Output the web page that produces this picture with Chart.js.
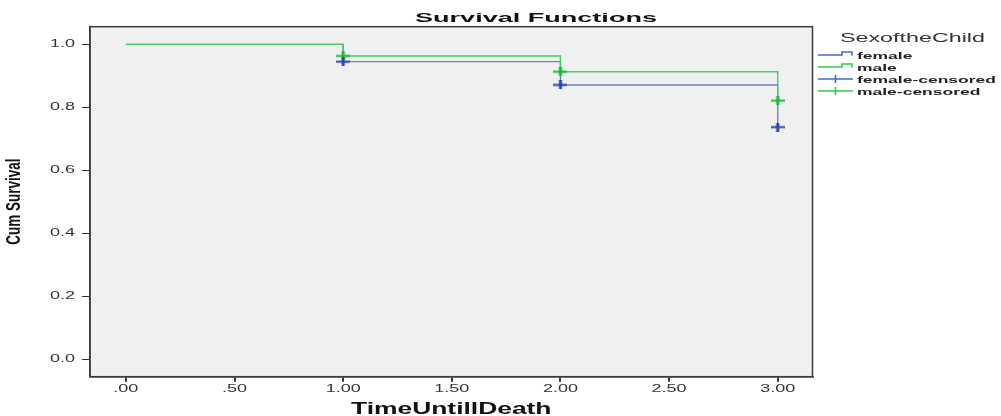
<!DOCTYPE html>
<html><head><meta charset="utf-8">
<script src="https://cdn.jsdelivr.net/npm/chart.js@4"></script>
<style>html,body{margin:0;padding:0;background:#fff;}#wrap{width:1001px;height:416px;}</style>
</head><body><div id="wrap"><canvas id="c" width="1001" height="416"></canvas></div>
<script>
const chartTitle = 'Survival Functions';
const xAxisTitle = 'TimeUntillDeath';
const yAxisTitle = 'Cum Survival';
const legendTitle = 'SexoftheChild';
const seriesNames = ['female', 'male', 'female-censored', 'male-censored'];
const times = [0, 1, 2, 3];
const femaleSurvival = [1.0, 0.945, 0.871, 0.737];
const maleSurvival = [1.0, 0.963, 0.913, 0.821];
const censorTimes = [1, 2, 3];
const femaleCensored = [0.945, 0.871, 0.737];
const maleCensored = [0.963, 0.913, 0.821];
const xTicks = [0, 0.5, 1, 1.5, 2, 2.5, 3];
const yTicks = [0, 0.2, 0.4, 0.6, 0.8, 1.0];

const COL = {
  femaleLine: '#6d80c6', maleLine: '#4ec766',
  femaleMark: '#2b45a6', maleMark: '#21b53f',
  femaleLeg: '#4a66cc', maleLeg: '#2ecc4e'
};

function crossCanvas(color) {
  const c = document.createElement('canvas');
  c.width = 14; c.height = 9;
  const g = c.getContext('2d');
  g.fillStyle = color;
  g.fillRect(0, 3.5, 14, 2);
  g.fillRect(5.5, 0, 3, 9);
  return c;
}

const origFill = CanvasRenderingContext2D.prototype.fillText;
function patchCtx(ctx) {
  ctx._sx = 1;
  ctx.fillText = function (t, x, y, mw) {
    const s = this._sx || 1;
    if (s === 1) return origFill.call(this, t, x, y);
    this.save();
    this.translate(x, y);
    this.scale(s, 1);
    origFill.call(this, t, 0, 0);
    this.restore();
  };
}

function drawText(ctx, text, x, y, font, sx, align, color) {
  ctx.save();
  ctx._sx = 1;
  ctx.font = font;
  ctx.fillStyle = color;
  ctx.textAlign = align;
  ctx.textBaseline = 'alphabetic';
  ctx.translate(x, y);
  ctx.scale(sx, 1);
  origFill.call(ctx, text, 0, 0);
  ctx.restore();
}

const decor = {
  id: 'decor',
  beforeDraw(chart) {
    const { ctx, chartArea: a } = chart;
    ctx.save();
    ctx.fillStyle = '#ffffff';
    ctx.fillRect(0, 0, chart.width, chart.height);
    ctx.fillStyle = '#f0f0f0';
    ctx.fillRect(a.left, a.top, a.right - a.left, a.bottom - a.top);
    ctx.restore();
    ctx._sx = 1.8;
  },
  beforeDatasetsDraw(chart) { chart.ctx._sx = 1; },
  afterDatasetsDraw(chart) {
    const { ctx, chartArea: a } = chart;
    ctx.save();
    ctx.strokeStyle = '#3a3a3a';
    ctx.lineWidth = 1.5;
    ctx.strokeRect(a.left, a.top, a.right - a.left, a.bottom - a.top);
    ctx.restore();
  },
  afterDraw(chart) {
    const { ctx, chartArea: a } = chart;
    ctx._sx = 1;
    drawText(ctx, chartTitle, 536, 22, 'bold 13px "Liberation Sans", Arial, sans-serif', 2.08, 'center', '#111');
    drawText(ctx, xAxisTitle, (a.left + a.right) / 2, 414, 'bold 16px "Liberation Sans", Arial, sans-serif', 1.65, 'center', '#111');
    ctx.save();
    ctx.translate(20, (a.top + a.bottom) / 2);
    ctx.rotate(-Math.PI / 2);
    ctx.scale(1, 1.45);
    ctx.font = 'bold 13.5px "Liberation Sans", Arial, sans-serif';
    ctx.fillStyle = '#111';
    ctx.textAlign = 'center';
    ctx.textBaseline = 'alphabetic';
    origFill.call(ctx, yAxisTitle, 0, 0);
    ctx.restore();
    drawText(ctx, legendTitle, 840, 41.5, '12px "Liberation Sans", Arial, sans-serif', 1.94, 'left', '#333');
    const rowsY = [55, 67, 79, 91];
    const legCols = [COL.femaleLeg, COL.maleLeg, COL.femaleLeg, COL.maleLeg];
    ctx.save();
    ctx.lineWidth = 1.6;
    ctx.lineCap = 'butt';
    rowsY.forEach((y, i) => {
      ctx.strokeStyle = legCols[i];
      ctx.beginPath();
      if (i < 2) {
        ctx.moveTo(818, y);
        ctx.lineTo(842, y);
        ctx.lineTo(842, y - 3);
        ctx.lineTo(852, y - 3);
        ctx.lineTo(852, y + 0.5);
      } else {
        ctx.moveTo(818, y);
        ctx.lineTo(853, y);
        ctx.moveTo(835.5, y - 4);
        ctx.lineTo(835.5, y + 4);
      }
      ctx.stroke();
    });
    ctx.restore();
    seriesNames.forEach((n, i) => {
      drawText(ctx, n, 857, rowsY[i] + 3.5, 'bold 9.5px "Liberation Sans", Arial, sans-serif', 1.84, 'left', '#222');
    });
  }
};

const fmtX = v => { const s = Number(v).toFixed(2); return s.startsWith('0') ? s.slice(1) : s; };
const fmtY = v => Number(v).toFixed(1);

const canvas = document.getElementById('c');
patchCtx(canvas.getContext('2d'));

new Chart(canvas, {
  type: 'line',
  data: {
    datasets: [
      { label: seriesNames[0], data: times.map((t, i) => ({ x: t, y: femaleSurvival[i] })), borderColor: COL.femaleLine, borderWidth: 1.4, pointRadius: 0, stepped: 'before', fill: false, order: 2 },
      { label: seriesNames[1], data: times.map((t, i) => ({ x: t, y: maleSurvival[i] })), borderColor: COL.maleLine, borderWidth: 1.4, pointRadius: 0, stepped: 'before', fill: false, order: 1 },
      { label: seriesNames[2], type: 'scatter', data: censorTimes.map((t, i) => ({ x: t, y: femaleCensored[i] })), pointStyle: crossCanvas(COL.femaleMark), pointRadius: 6, showLine: false, order: 0 },
      { label: seriesNames[3], type: 'scatter', data: censorTimes.map((t, i) => ({ x: t, y: maleCensored[i] })), pointStyle: crossCanvas(COL.maleMark), pointRadius: 6, showLine: false, order: 0 }
    ]
  },
  options: {
    responsive: false,
    animation: false,
    devicePixelRatio: 1,
    layout: { padding: { left: 0, top: 26.7, right: 188.5, bottom: 0 } },
    plugins: { legend: { display: false }, tooltip: { enabled: false }, title: { display: false } },
    scales: {
      x: {
        type: 'linear', min: -0.165, max: 3.16,
        afterBuildTicks: s => { s.ticks = xTicks.map(v => ({ value: v })); },
        afterFit: s => { s.height = 39.3; },
        ticks: { callback: fmtX, font: { family: '"Liberation Sans", Arial, sans-serif', size: 10 }, color: '#333', padding: 1.5, maxRotation: 0, autoSkip: false },
        grid: { drawOnChartArea: false, drawTicks: true, tickLength: 5, color: '#333', lineWidth: 2 },
        border: { display: true, color: '#3a3a3a', width: 1.5 }
      },
      y: {
        type: 'linear', min: -0.056, max: 1.056,
        afterBuildTicks: s => { s.ticks = yTicks.map(v => ({ value: v })); },
        afterFit: s => { s.width = 90; },
        ticks: { callback: fmtY, font: { family: '"Liberation Sans", Arial, sans-serif', size: 10 }, color: '#333', padding: 7, autoSkip: false },
        grid: { drawOnChartArea: false, drawTicks: true, tickLength: 8, color: '#333', lineWidth: 1 },
        border: { display: true, color: '#3a3a3a', width: 1.5 }
      }
    }
  },
  plugins: [decor]
});
</script>
</body></html>
